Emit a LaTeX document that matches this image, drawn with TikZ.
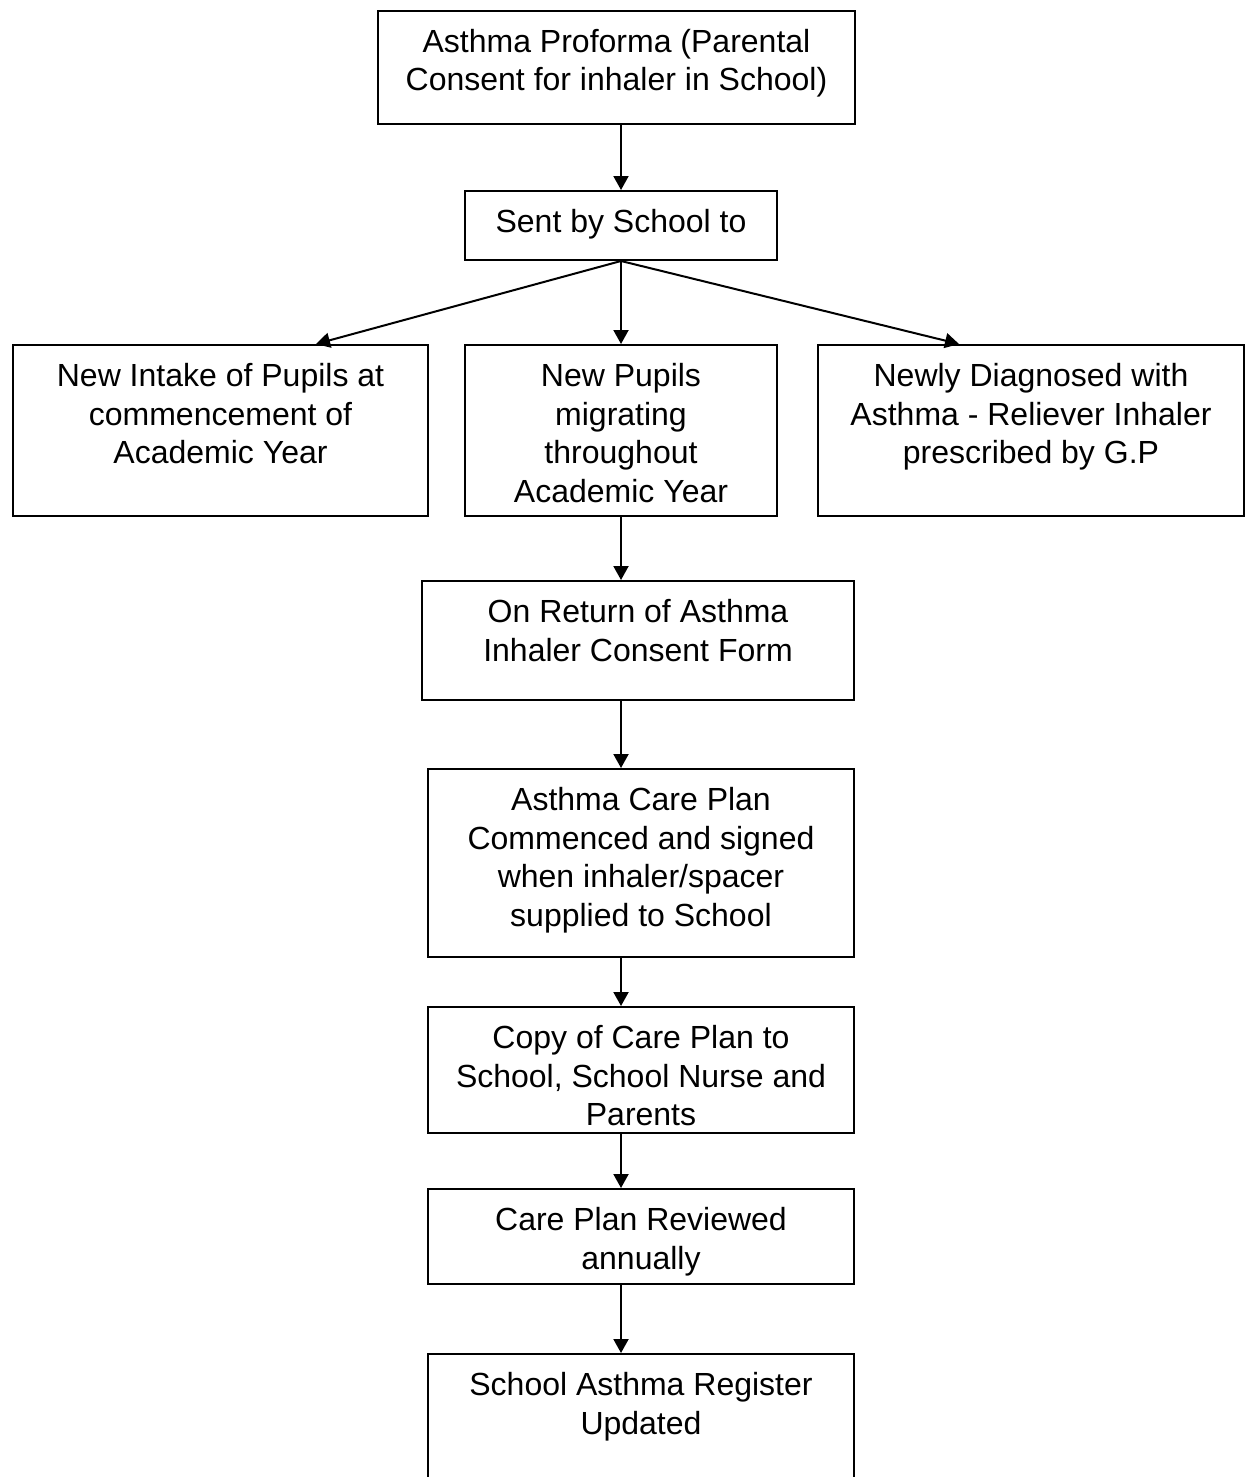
\documentclass[tikz,border=0pt]{standalone}
\usepackage{fontspec}
\setmainfont{Liberation Sans}
\usepackage{tikz}
\usetikzlibrary{arrows.meta}

\tikzset{
	box/.style={draw=black, line width=1pt, inner sep=0pt, anchor=north west},
	arr/.style={-{Triangle[length=7pt,width=7.5pt]}, line width=1pt}
}
\newcommand{\boxtext}[3]{\parbox[c][#2][t]{#1}{\centering\rule{0pt}{20.75pt}#3}}

\begin{document}
\begin{tikzpicture}[x=0.5pt, y=-0.5pt, font=\fontsize{16}{19.25}\selectfont]
	\clip (0,0) rectangle (1248,1477);

	\node[box] (proforma)  at (377, 10)   {\boxtext{238.5pt}{56.5pt}{Asthma Proforma (Parental\\Consent for inhaler in School)}};
	\node[box] (sent)      at (464, 190)  {\boxtext{156pt}{34.5pt}{Sent by School to}};
	\node[box] (intake)    at (12, 344)   {\boxtext{207.5pt}{85.5pt}{New Intake of Pupils at\\commencement of\\Academic Year}};
	\node[box] (migrate)   at (464, 344)  {\boxtext{156pt}{85.5pt}{New Pupils\\migrating\\throughout\\Academic Year}};
	\node[box] (diagnosed) at (817, 344)  {\boxtext{213pt}{85.5pt}{Newly Diagnosed with\\Asthma - Reliever Inhaler\\prescribed by G.P}};
	\node[box] (ret)       at (421, 580)  {\boxtext{216pt}{59.5pt}{On Return of Asthma\\Inhaler Consent Form}};
	\node[box] (careplan)  at (427, 768)  {\boxtext{213pt}{94pt}{Asthma Care Plan\\Commenced and signed\\when inhaler/spacer\\supplied to School}};
	\node[box] (copy)      at (427, 1006) {\boxtext{213pt}{63pt}{Copy of Care Plan to\\School, School Nurse and\\Parents}};
	\node[box] (review)    at (427, 1188) {\boxtext{213pt}{47.5pt}{Care Plan Reviewed\\annually}};
	\node[box] (register)  at (427, 1353) {\boxtext{213pt}{80pt}{School Asthma Register\\Updated}};

	\path[arr] (proforma.south -| sent.north) edge (sent.north);
	\path[arr] (sent.south) edge ([xshift=47.75pt]intake.north);
	\path[arr] (sent.south) edge (migrate.north);
	\path[arr] (sent.south) edge ([xshift=-36pt]diagnosed.north);
	\path[arr] (migrate.south) edge (ret.north -| migrate.south);
	\path[arr] (ret.south -| migrate.south) edge (careplan.north -| migrate.south);
	\path[arr] (careplan.south -| migrate.south) edge (copy.north -| migrate.south);
	\path[arr] (copy.south -| migrate.south) edge (review.north -| migrate.south);
	\path[arr] (review.south -| migrate.south) edge (register.north -| migrate.south);

\end{tikzpicture}
\end{document}
